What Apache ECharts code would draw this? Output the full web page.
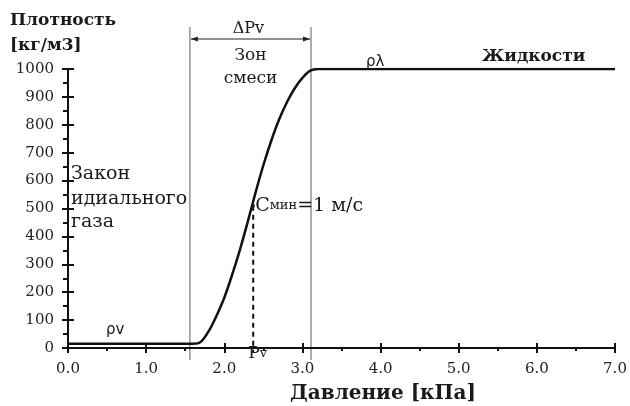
<!DOCTYPE html>
<html>
<head>
<meta charset="utf-8">
<script src="https://cdn.jsdelivr.net/npm/echarts@6/dist/echarts.min.js"></script>
<style>
  html, body { margin: 0; padding: 0; background: #fff; }
  #chart { width: 630px; height: 406px; }
</style>
</head>
<body>
<div id="chart"></div>
<script>
// давление, кПа
const pressure = [0, 1.6, 1.7, 1.8, 1.9, 2.0, 2.1, 2.2, 2.3, 2.4, 2.5, 2.6, 2.7, 2.8, 2.9, 3.0, 3.1, 3.2, 7.0];
// плотность, кг/м3
const density = [15, 15, 22, 60, 115, 180, 262, 352, 452, 557, 655, 742, 818, 880, 930, 968, 994, 1000, 1000];
const xTicks = [0, 1, 2, 3, 4, 5, 6, 7];
const yTicks = [0, 100, 200, 300, 400, 500, 600, 700, 800, 900, 1000];
const zoneBounds = [1.56, 3.11];   // границы зоны смеси
const pvPoint = [2.37, 510];       // Pv, точка Cмин

const serif = 'DejaVu Serif';
const chart = echarts.init(document.getElementById('chart'));

const axisLineStyle = { color: '#111', width: 2 };
const xBase = {
  type: 'value',
  min: xTicks[0],
  max: xTicks[xTicks.length - 1],
  interval: 1,
  position: 'bottom',
  splitLine: { show: false },
  axisLine: { onZero: false, lineStyle: axisLineStyle }
};
const yBase = {
  type: 'value',
  min: yTicks[0],
  max: yTicks[yTicks.length - 1],
  interval: 100,
  position: 'left',
  splitLine: { show: false },
  axisLine: { onZero: false, lineStyle: axisLineStyle }
};

chart.setOption({
  animation: false,
  grid: { left: 68, right: 15, top: 69, bottom: 58 },
  xAxis: [
    Object.assign({}, xBase, {
      axisTick: { show: true, inside: false, length: 5, lineStyle: { color: '#111', width: 2 } },
      minorTick: { show: true, splitNumber: 2, length: 3, lineStyle: { color: '#111', width: 2 } },
      axisLabel: {
        margin: 14, color: '#222', fontFamily: serif, fontSize: 15,
        formatter: v => v.toFixed(1)
      }
    }),
    Object.assign({}, xBase, {
      axisTick: { show: true, inside: true, length: 5, lineStyle: { color: '#111', width: 2 } },
      axisLabel: { show: false }
    })
  ],
  yAxis: [
    Object.assign({}, yBase, {
      axisTick: { show: true, inside: false, length: 6, lineStyle: { color: '#111', width: 2 } },
      minorTick: { show: true, splitNumber: 2, length: 5, lineStyle: { color: '#111', width: 2 } },
      axisLabel: { margin: 14, color: '#222', fontFamily: serif, fontSize: 15, formatter: v => String(v) }
    }),
    Object.assign({}, yBase, {
      axisTick: { show: true, inside: true, length: 6, lineStyle: { color: '#111', width: 2 } },
      axisLabel: { show: false }
    })
  ],
  series: [
    {
      type: 'line',
      xAxisIndex: 0,
      yAxisIndex: 0,
      data: pressure.map((p, i) => [p, density[i]]),
      smooth: 0.3,
      symbol: 'none',
      lineStyle: { color: '#111', width: 2.5 },
      z: 5
    }
  ]
});

// подписи и линии по координатам данных
const px = (x, y) => chart.convertToPixel({ gridIndex: 0 }, [x, y]);
const left = px(zoneBounds[0], 0);
const right = px(zoneBounds[1], 0);
const pv = px(pvPoint[0], pvPoint[1]);
const pvBase = px(pvPoint[0], 0);
const topY = 27, bottomY = 360, arrowY = 39;
const midX = (left[0] + right[0]) / 2;

const txt = (x, y, text, size, extra) => ({
  type: 'text', x: x, y: y, z: 10,
  style: Object.assign({
    text: text, fill: '#1a1a1a', fontFamily: serif, fontSize: size,
    align: 'left', verticalAlign: 'middle'
  }, extra || {})
});

chart.setOption({
  graphic: [
    { type: 'line', shape: { x1: left[0], y1: topY, x2: left[0], y2: bottomY }, style: { stroke: '#777', lineWidth: 1.2 } },
    { type: 'line', shape: { x1: right[0], y1: topY, x2: right[0], y2: bottomY }, style: { stroke: '#777', lineWidth: 1.2 } },
    { type: 'line', shape: { x1: left[0] + 1, y1: arrowY, x2: right[0] - 1, y2: arrowY }, style: { stroke: '#222', lineWidth: 1.2 } },
    { type: 'polygon', shape: { points: [[left[0] + 1, arrowY], [left[0] + 8, arrowY - 2.5], [left[0] + 8, arrowY + 2.5]] }, style: { fill: '#222' } },
    { type: 'polygon', shape: { points: [[right[0] - 1, arrowY], [right[0] - 8, arrowY - 2.5], [right[0] - 8, arrowY + 2.5]] }, style: { fill: '#222' } },
    { type: 'line', shape: { x1: pv[0], y1: pv[1], x2: pvBase[0], y2: pvBase[1] + 5 }, style: { stroke: '#111', lineWidth: 2, lineDash: [5, 4] } },
    { type: 'circle', shape: { cx: pv[0], cy: pv[1], r: 1.6 }, style: { fill: '#111' }, z: 10 },

    txt(10, 21, 'Плотность', 17, { fontWeight: 'bold' }),
    txt(10, 46, '[кг/м3]', 17, { fontWeight: 'bold' }),
    txt(midX - 2, 29, 'ΔPv', 16, { align: 'center' }),
    txt(midX, 56, 'Зон', 17, { align: 'center' }),
    txt(midX, 79, 'смеси', 17, { align: 'center' }),
    txt(366, 62, 'ρλ', 15, { fontFamily: 'DejaVu Sans' }),
    txt(482, 57, 'Жидкости', 17, { fontWeight: 'bold' }),
    txt(71, 174, 'Закон', 19),
    txt(71, 199, 'идиального', 19),
    txt(71, 222, 'газа', 19),
    {
      type: 'text', x: pv[0] + 2, y: pv[1], z: 10,
      style: {
        text: '{c|C}{s|мин}{c|=1 м/с}',
        verticalAlign: 'middle',
        rich: {
          c: { fontFamily: serif, fontSize: 19, fill: '#1a1a1a' },
          s: { fontFamily: serif, fontSize: 13, fill: '#1a1a1a' }
        }
      }
    },
    txt(106, 330, 'ρv', 15, { fontFamily: 'DejaVu Sans' }),
    {
      type: 'text', x: pvBase[0] - 5, y: 354, z: 10,
      style: {
        text: '{c|P}{s|v}',
        verticalAlign: 'middle',
        rich: {
          c: { fontFamily: serif, fontSize: 17, fill: '#1a1a1a' },
          s: { fontFamily: serif, fontSize: 13, fill: '#1a1a1a' }
        }
      }
    },
    txt(290, 394, 'Давление [кПа]', 20, { fontWeight: 'bold' })
  ]
});
</script>
</body>
</html>
